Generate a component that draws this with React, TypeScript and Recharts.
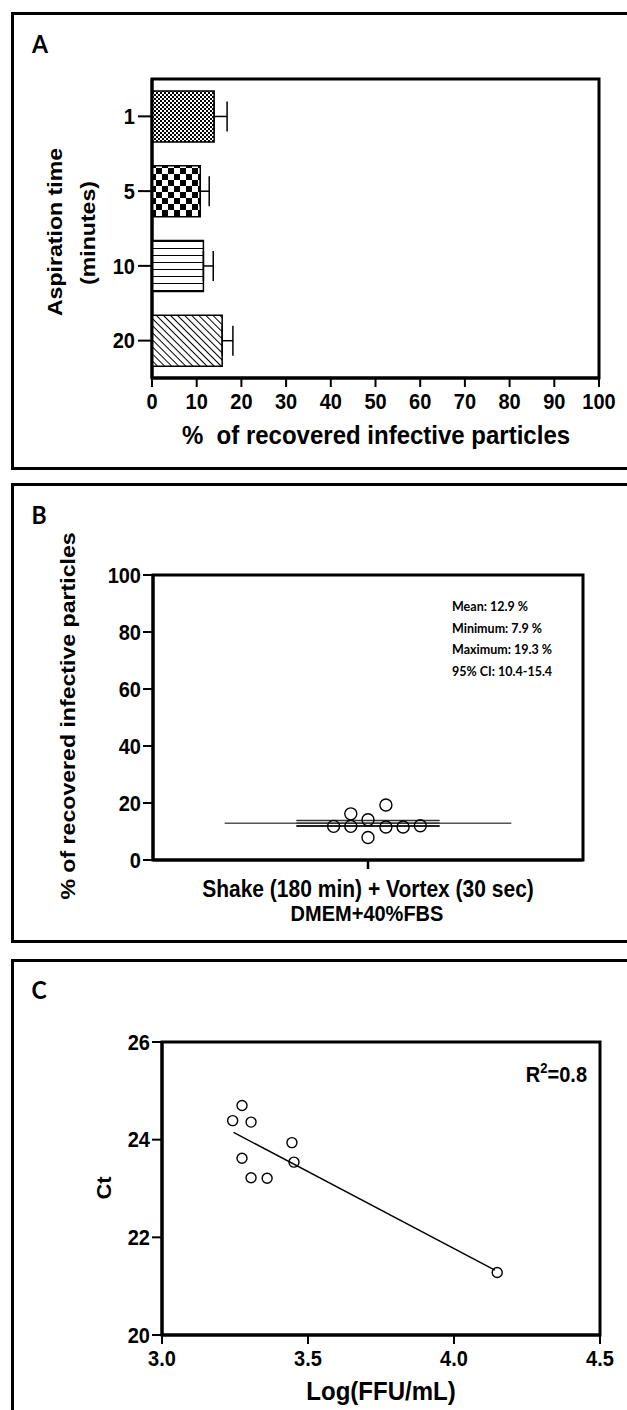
import React from "react"
import {
  Bar,
  BarChart,
  Cell,
  ErrorBar,
  ReferenceArea,
  ReferenceLine,
  Scatter,
  ScatterChart,
  XAxis,
  YAxis,
} from "recharts"

// ---- panel A: aspiration time ----
const aspirationTimes = ["1", "5", "10", "20"]
const recoveredMean = [13.9, 10.8, 11.5, 15.7]
const recoveredErr = [2.9, 2.0, 2.2, 2.4]
const percentTicks = [0, 10, 20, 30, 40, 50, 60, 70, 80, 90, 100]

// ---- panel B: shake + vortex ----
const jitter = [-0.48, -0.24, -0.24, 0, 0, 0.25, 0.25, 0.49, 0.73]
const recovered = [11.8, 11.8, 16.2, 14.1, 7.9, 19.3, 11.6, 11.6, 12.0]
const meanRecovered = 12.9
const semRecovered = 1.0
const bTicks = [0, 20, 40, 60, 80, 100]
const statLines = ["Mean: 12.9 %", "Minimum: 7.9 %", "Maximum: 19.3 %", "95% CI: 10.4-15.4"]

// ---- panel C: Ct vs log(FFU/mL) ----
const logFfu = [3.242, 3.274, 3.305, 3.274, 3.305, 3.36, 3.445, 3.452, 4.148]
const ct = [24.39, 24.7, 24.36, 23.62, 23.22, 23.21, 23.94, 23.54, 21.28]
const fitX = [3.245, 4.14]
const fitY = [24.15, 21.33]
const cxTicks = [3.0, 3.5, 4.0, 4.5]
const cyTicks = [20, 22, 24, 26]

const patterns = ["url(#fineCheck)", "url(#coarseCheck)", "url(#hLines)", "url(#diagLines)"]

const barData = aspirationTimes.map((t, i) => ({
  time: t,
  value: recoveredMean[i],
  err: [0, recoveredErr[i]],
}))
const bData = jitter.map((x, i) => ({ x, y: recovered[i] }))
const cData = logFfu.map((x, i) => ({ x, y: ct[i] }))

const arial = "'Liberation Sans', Arial, sans-serif"
const calibri = "Lato, 'Open Sans', sans-serif"
// the source figure is slightly stretched vertically
const STRETCH = 1.1

// tick label drawn with the same vertical stretch as the source
const stretchTick = (fmt?: (v: any) => string) => (p: any) => {
  const { x, y, payload, textAnchor, verticalAnchor } = p
  const dy = verticalAnchor === "start" ? "0.71em" : verticalAnchor === "end" ? "0" : "0.355em"
  const label = fmt ? fmt(payload.value) : String(payload.value)
  return (
    <text
      transform={`translate(${x},${y}) scale(1,${STRETCH})`}
      textAnchor={textAnchor}
      dy={dy}
      fill="#000"
      fontSize={20}
      fontWeight={700}
      fontFamily={arial}
    >
      {label}
    </text>
  )
}

function Txt(props: {
  x: number
  y: number
  size: number
  children: React.ReactNode
  rotate?: boolean
  font?: string
  align?: "center" | "left" | "right"
}) {
  const { x, y, size, rotate, font, align = "center" } = props
  const tx = align === "center" ? "-50%" : align === "right" ? "-100%" : "0"
  const tf = rotate
    ? `translate(${tx}, -50%) rotate(-90deg) scaleX(${STRETCH})`
    : `translate(${tx}, -50%) scaleY(${STRETCH})`
  return (
    <div
      style={{
        position: "absolute",
        left: x,
        top: y,
        transform: tf,
        transformOrigin: align === "left" ? "left center" : align === "right" ? "right center" : "center",
        whiteSpace: "nowrap",
        fontFamily: font || arial,
        fontWeight: 700,
        fontSize: size,
        lineHeight: 1,
        color: "#000",
      }}
    >
      {props.children}
    </div>
  )
}

const frame = (top: number, height: number): React.CSSProperties => ({
  position: "absolute",
  left: 11,
  top,
  width: 640,
  height,
  border: "3px solid #000",
  boxSizing: "border-box",
})

const dot = (r: number) => (p: any) => (
  <circle cx={p.cx} cy={p.cy} r={r} fill="none" stroke="#000" strokeWidth={1.4} />
)

const axisLine = { stroke: "#000", strokeWidth: 3 }
const tickLine = { stroke: "#000", strokeWidth: 2 }

function PanelA() {
  return (
    <div style={{ position: "absolute", left: 0, top: 0, width: 627, height: 470 }}>
      <div style={frame(12, 458)} />
      <Txt x={40} y={44} size={23} font={calibri}>A</Txt>
      <div style={{ position: "absolute", left: 0, top: 0 }}>
        <BarChart
          width={627}
          height={470}
          data={barData}
          layout="vertical"
          margin={{ top: 79, right: 28, bottom: 52, left: 92 }}
          barCategoryGap="16%"
        >
          <defs>
            <pattern id="fineCheck" width={4} height={4} patternUnits="userSpaceOnUse">
              <rect width={4} height={4} fill="#fff" />
              <rect x={0} y={0} width={2} height={2} fill="#000" />
              <rect x={2} y={2} width={2} height={2} fill="#000" />
            </pattern>
            <pattern id="coarseCheck" width={12} height={12} patternUnits="userSpaceOnUse">
              <rect width={12} height={12} fill="#fff" />
              <rect x={0} y={0} width={6} height={6} fill="#000" />
              <rect x={6} y={6} width={6} height={6} fill="#000" />
            </pattern>
            <pattern id="hLines" width={8} height={7} patternUnits="userSpaceOnUse">
              <rect width={8} height={7} fill="#fff" />
              <line x1={0} y1={3.5} x2={8} y2={3.5} stroke="#000" strokeWidth={1} />
            </pattern>
            <pattern
              id="diagLines"
              width={5}
              height={5}
              patternUnits="userSpaceOnUse"
              patternTransform="rotate(-45)"
            >
              <rect width={5} height={5} fill="#fff" />
              <line x1={2.5} y1={0} x2={2.5} y2={5} stroke="#000" strokeWidth={1} />
            </pattern>
          </defs>
          <XAxis
            type="number"
            domain={[0, 100]}
            ticks={percentTicks}
            interval={0}
            height={40}
            tick={stretchTick()}
            tickSize={9}
            tickMargin={6}
            axisLine={axisLine}
            tickLine={tickLine}
          />
          <YAxis
            type="category"
            dataKey="time"
            width={60}
            tick={stretchTick()}
            tickSize={14}
            tickMargin={3}
            axisLine={axisLine}
            tickLine={tickLine}
          />
          <ReferenceArea x1={0} x2={100} fill="none" stroke="#000" strokeWidth={3} ifOverflow="visible" />
          <Bar dataKey="value" stroke="#000" strokeWidth={1.5} isAnimationActive={false}>
            {barData.map((d, i) => (
              <Cell key={d.time} fill={patterns[i]} />
            ))}
            <ErrorBar dataKey="err" direction="x" width={15} stroke="#000" strokeWidth={1.5} />
          </Bar>
        </BarChart>
      </div>
      <Txt x={376} y={435} size={24}>%&nbsp; of recovered infective particles</Txt>
      <Txt x={54} y={232} size={21} rotate>Aspiration time</Txt>
      <Txt x={87} y={233} size={21} rotate>(minutes)</Txt>
    </div>
  )
}

function PanelB() {
  return (
    <div style={{ position: "absolute", left: 0, top: 0, width: 627, height: 1410 }}>
      <div style={frame(483, 460)} />
      <Txt x={39} y={515} size={23} font={calibri}>B</Txt>
      <div style={{ position: "absolute", left: 0, top: 480 }}>
        <ScatterChart width={627} height={460} margin={{ top: 95, right: 44, bottom: 52, left: 93 }}>
          <XAxis
            type="number"
            dataKey="x"
            domain={[-3, 3]}
            ticks={[0]}
            height={28}
            tick={() => <g />}
            tickSize={9}
            axisLine={axisLine}
            tickLine={{ stroke: "#000", strokeWidth: 2.5 }}
          />
          <YAxis
            type="number"
            dataKey="y"
            domain={[0, 100]}
            ticks={bTicks}
            interval={0}
            width={60}
            tick={stretchTick()}
            tickSize={10}
            tickMargin={2}
            axisLine={axisLine}
            tickLine={tickLine}
          />
          <ReferenceArea x1={-3} x2={3} y1={0} y2={100} fill="none" stroke="#000" strokeWidth={3} ifOverflow="visible" />
          <ReferenceLine
            segment={[{ x: -2, y: meanRecovered }, { x: 2, y: meanRecovered }]}
            stroke="#555"
            strokeWidth={1.5}
          />
          <ReferenceLine
            segment={[{ x: -1, y: meanRecovered + semRecovered }, { x: 1, y: meanRecovered + semRecovered }]}
            stroke="#333"
            strokeWidth={1.5}
          />
          <ReferenceLine
            segment={[{ x: -1, y: meanRecovered }, { x: 1, y: meanRecovered }]}
            stroke="#333"
            strokeWidth={1.5}
          />
          <ReferenceLine
            segment={[{ x: -1, y: meanRecovered - semRecovered }, { x: 1, y: meanRecovered - semRecovered }]}
            stroke="#222"
            strokeWidth={2}
          />
          <Scatter data={bData} shape={dot(6)} isAnimationActive={false} />
        </ScatterChart>
      </div>
      <Txt x={67} y={716} size={21} rotate>% of recovered infective particles</Txt>
      <Txt x={368} y={889} size={21}>Shake (180 min) + Vortex (30 sec)</Txt>
      <Txt x={367} y={913} size={20}>DMEM+40%FBS</Txt>
      {statLines.map((s, i) => (
        <Txt key={s} x={452} y={607 + i * 21.7} size={12.5} font={calibri} align="left">
          {s}
        </Txt>
      ))}
    </div>
  )
}

function PanelC() {
  return (
    <div style={{ position: "absolute", left: 0, top: 0, width: 627, height: 1410 }}>
      <div style={frame(959, 480)} />
      <Txt x={39} y={990} size={23} font={calibri}>C</Txt>
      <div style={{ position: "absolute", left: 0, top: 955 }}>
        <ScatterChart width={627} height={455} margin={{ top: 87, right: 27, bottom: 35, left: 102 }}>
          <XAxis
            type="number"
            dataKey="x"
            domain={[3, 4.5]}
            ticks={cxTicks}
            interval={0}
            height={40}
            tick={stretchTick((v: number) => v.toFixed(1))}
            tickSize={9}
            tickMargin={6}
            axisLine={axisLine}
            tickLine={tickLine}
          />
          <YAxis
            type="number"
            dataKey="y"
            domain={[20, 26]}
            ticks={cyTicks}
            interval={0}
            width={60}
            tick={stretchTick()}
            tickSize={10}
            tickMargin={2}
            axisLine={axisLine}
            tickLine={tickLine}
          />
          <ReferenceArea x1={3} x2={4.5} y1={20} y2={26} fill="none" stroke="#000" strokeWidth={3} ifOverflow="visible" />
          <ReferenceLine
            segment={[{ x: fitX[0], y: fitY[0] }, { x: fitX[1], y: fitY[1] }]}
            stroke="#000"
            strokeWidth={1.4}
          />
          <Scatter data={cData} shape={dot(5)} isAnimationActive={false} />
        </ScatterChart>
      </div>
      <Txt x={104} y={1188} size={20} rotate>Ct</Txt>
      <Txt x={381} y={1391} size={24}>Log(FFU/mL)</Txt>
      <Txt x={587} y={1073} size={20} align="right">
        R<sup style={{ fontSize: 13 }}>2</sup>=0.8
      </Txt>
    </div>
  )
}

export default function App() {
  return (
    <div
      style={{
        position: "absolute",
        left: 0,
        top: 0,
        width: 627,
        height: 1410,
        overflow: "hidden",
        background: "#fff",
      }}
    >
      <PanelA />
      <PanelB />
      <PanelC />
    </div>
  )
}
